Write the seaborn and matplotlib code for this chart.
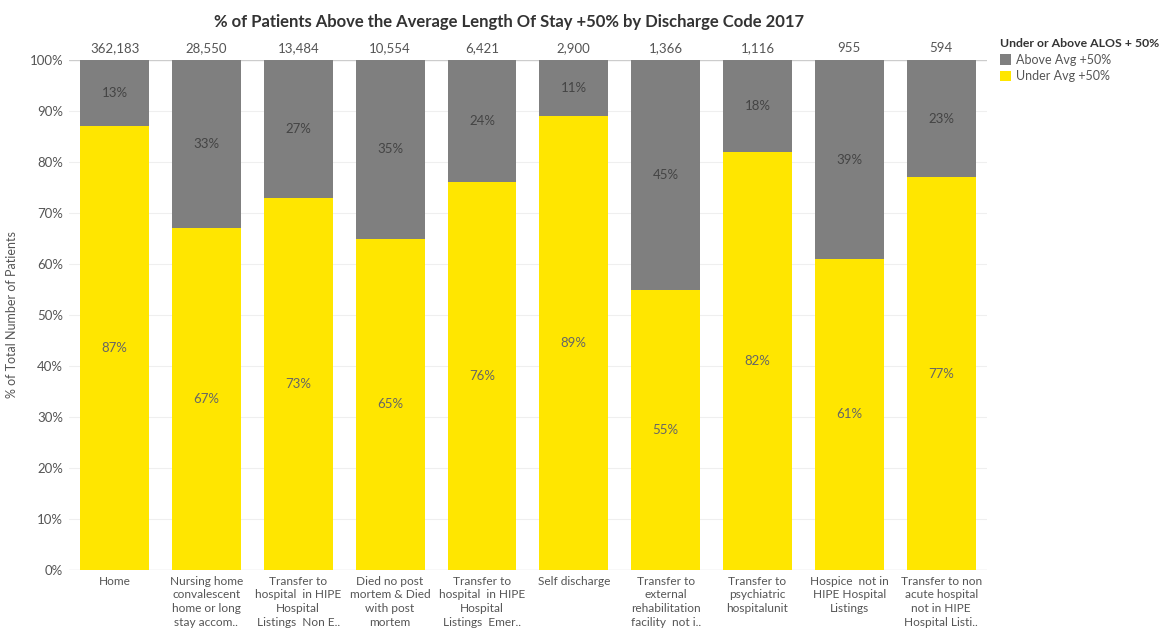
import matplotlib
matplotlib.use("Agg")
import matplotlib.pyplot as plt
import seaborn as sns
import pandas as pd
from matplotlib.patches import Patch

categories = [
    "Home",
    "Nursing home\nconvalescent\nhome or long\nstay accom..",
    "Transfer to\nhospital  in HIPE\nHospital\nListings  Non E..",
    "Died no post\nmortem & Died\nwith post\nmortem",
    "Transfer to\nhospital  in HIPE\nHospital\nListings  Emer..",
    "Self discharge",
    "Transfer to\nexternal\nrehabilitation\nfacility  not i..",
    "Transfer to\npsychiatric\nhospitalunit",
    "Hospice  not in\nHIPE Hospital\nListings",
    "Transfer to non\nacute hospital\nnot in HIPE\nHospital Listi..",
]
totals = ["362,183", "28,550", "13,484", "10,554", "6,421", "2,900", "1,366", "1,116", "955", "594"]
under_pct = [87, 67, 73, 65, 76, 89, 55, 82, 61, 77]
above_pct = [13, 33, 27, 35, 24, 11, 45, 18, 39, 23]

YELLOW = "#FFE600"
GREY = "#7F7F7F"
TXT = "#555555"

sns.set_theme(style="white")
plt.rcParams["font.family"] = ["Lato", "DejaVu Sans"]

df = pd.DataFrame({
    "cat": categories,
    "under": [u / 100 for u in under_pct],
    "above": [a / 100 for a in above_pct],
})
df["total"] = df["under"] + df["above"]

fig = plt.figure(figsize=(11.64, 6.39), dpi=100)
ax = fig.add_axes([0.059, 0.108, 0.789, 0.798])

for v in [i / 10 for i in range(1, 10)]:
    ax.axhline(v, color="#efefef", lw=0.8, zorder=0)
ax.axhline(1.0, color="#cccccc", lw=1.0, zorder=0)
ax.axhline(0.0, color="#dddddd", lw=1.0, zorder=0)

sns.barplot(data=df, x="cat", y="total", color=GREY, width=0.75, ax=ax,
            saturation=1, zorder=2, linewidth=0, edgecolor="none")
sns.barplot(data=df, x="cat", y="under", color=YELLOW, width=0.75, ax=ax,
            saturation=1, zorder=3, linewidth=0, edgecolor="none")

for i, (u, a, t) in enumerate(zip(df["under"], df["above"], totals)):
    ax.text(i, u / 2, f"{round(u*100)}%", ha="center", va="center",
            fontsize=9.5, color="#666666", zorder=5)
    ax.text(i, u + a / 2, f"{round(a*100)}%", ha="center", va="center",
            fontsize=9.5, color="#444444", zorder=5)
    ax.text(i, 1.012, t, ha="center", va="bottom", fontsize=9.5, color=TXT)

ax.set_ylim(0, 1.0)
ax.set_xlim(-0.5, len(categories) - 0.5)
ax.set_yticks([i / 10 for i in range(11)])
ax.set_yticklabels([f"{i*10}%" for i in range(11)], fontsize=9.5, color=TXT)
ax.set_xticks(range(len(categories)))
ax.set_xticklabels(categories, fontsize=8.6, color=TXT, linespacing=1.3, va="top")
ax.tick_params(axis="both", length=0, pad=4)
ax.set_xlabel("")
ax.set_ylabel("% of Total Number of Patients", fontsize=9, color=TXT, labelpad=8)
for s in ax.spines.values():
    s.set_visible(False)

fig.text(0.437, 0.965, "% of Patients Above the Average Length Of Stay +50% by Discharge Code 2017",
         ha="center", va="center", fontsize=12, fontweight="bold", color="#333333")

handles = [Patch(facecolor=GREY, edgecolor="none"), Patch(facecolor=YELLOW, edgecolor="none")]
leg = fig.legend(handles, ["Above Avg +50%", "Under Avg +50%"],
                 title="Under or Above ALOS + 50%", loc="upper left",
                 bbox_to_anchor=(0.859, 0.94), frameon=False, fontsize=9,
                 title_fontsize=8.8, handlelength=0.9, handleheight=0.9,
                 handletextpad=0.4, borderaxespad=0, borderpad=0, labelspacing=0.35,
                 alignment="left")
leg.get_title().set_color("#333333")
leg.get_title().set_fontweight("bold")
for t in leg.get_texts():
    t.set_color(TXT)

fig.savefig("out.png", dpi=100)
